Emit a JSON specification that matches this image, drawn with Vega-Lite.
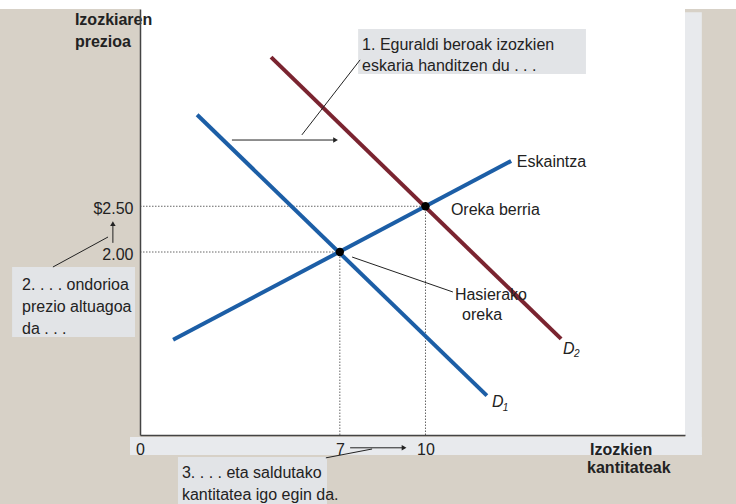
{
  "$schema": "https://vega.github.io/schema/vega-lite/v6.json",
  "autosize": {"type": "none"},
  "width": 545,
  "height": 426,
  "padding": {"left": 140, "top": 9, "right": 51, "bottom": 69},
  "background": "#d7d1c7",
  "config": {"font": "Liberation Sans", "view": {"stroke": null, "fill": "white"}},
  "datasets": {
    "bands": [
      {"x": -4.904, "x2": 20.876, "y": 4.656, "y2": 4.76, "fill": "top"},
      {"x": -0.35, "x2": 19.68, "y": -0.022, "y2": -0.219, "fill": "strip"},
      {"x": 19.09, "x2": 19.68, "y": 4.62, "y2": -0.219, "fill": "strip"}
    ],
    "boxes": [
      {"x": 7.64, "x2": 15.62, "y": 4.437, "y2": 3.945},
      {"x": -4.48, "x2": -0.175, "y": 1.836, "y2": 1.071},
      {"x": 1.33, "x2": 6.55, "y": -0.24, "y2": -0.76}
    ],
    "dotted": [
      {"x": 0, "x2": 10, "y": 2.5, "y2": 2.5},
      {"x": 0, "x2": 7, "y": 2.0, "y2": 2.0},
      {"x": 7, "x2": 7, "y": 0, "y2": 2.0},
      {"x": 10, "x2": 10, "y": 0, "y2": 2.5}
    ],
    "curves": [
      {"curve": "D1", "q": 2.0, "p": 3.5},
      {"curve": "D1", "q": 12.15, "p": 0.43},
      {"curve": "D2", "q": 4.59, "p": 4.13},
      {"curve": "D2", "q": 14.75, "p": 1.05},
      {"curve": "S", "q": 1.16, "p": 1.04},
      {"curve": "S", "q": 13.0, "p": 2.995}
    ],
    "equilibria": [
      {"q": 7, "p": 2.0},
      {"q": 10, "p": 2.5}
    ],
    "pointers": [
      {"x": 5.67, "y": 3.28, "x2": 7.71, "y2": 4.1},
      {"x": 3.22, "y": 3.224, "x2": 6.8, "y2": 3.224},
      {"x": -3.05, "y": 1.836, "x2": -1.12, "y2": 2.164},
      {"x": -0.95, "y": 2.1, "x2": -0.95, "y2": 2.29},
      {"x": 7.43, "y": 1.945, "x2": 10.96, "y2": 1.563},
      {"x": 7.36, "y": -0.14, "x2": 9.2, "y2": -0.14},
      {"x": 6.51, "y": -0.25, "x2": 8.13, "y2": -0.153}
    ],
    "heads": [
      {"x": 6.85, "y": 3.224, "shape": "triangle-right"},
      {"x": 9.25, "y": -0.14, "shape": "triangle-right"},
      {"x": -0.95, "y": 2.31, "shape": "triangle-up"}
    ],
    "notes": [
      {"x": 7.78, "y": 4.262, "label": "1. Eguraldi beroak izozkien"},
      {"x": 7.78, "y": 4.033, "label": "eskaria handitzen du . . ."},
      {"x": -4.13, "y": 1.639, "label": "2. . . . ondorioa"},
      {"x": -4.13, "y": 1.399, "label": "prezio altuagoa"},
      {"x": -4.13, "y": 1.158, "label": "da . . ."},
      {"x": 1.47, "y": -0.415, "label": "3. . . . eta saldutako"},
      {"x": 1.47, "y": -0.656, "label": "kantitatea igo egin da."},
      {"x": 10.89, "y": 2.46, "label": "Oreka berria"},
      {"x": 11.03, "y": 1.53, "label": "Hasierako"},
      {"x": 11.28, "y": 1.31, "label": "oreka"},
      {"x": 13.2, "y": 2.98, "label": "Eskaintza"}
    ],
    "titles": [
      {"x": -2.28, "y": 4.54, "label": "Izozkiaren"},
      {"x": -2.28, "y": 4.29, "label": "prezioa"},
      {"x": 15.76, "y": -0.164, "label": "Izozkien"},
      {"x": 15.66, "y": -0.36, "label": "kantitateak"}
    ],
    "dlabels": [
      {"x": 14.82, "y": 0.94, "label": "D"},
      {"x": 12.33, "y": 0.36, "label": "D"}
    ],
    "dsubs": [
      {"x": 15.2, "y": 0.88, "label": "2"},
      {"x": 12.71, "y": 0.30, "label": "1"}
    ]
  },
  "layer": [
    {
      "data": {"name": "bands"},
      "mark": {"type": "rect"},
      "encoding": {
        "x": {"field": "x", "type": "quantitative", "scale": {"domain": [0, 19.09], "nice": false, "zero": false}, "axis": {"values": [0, 7, 10], "format": "d", "title": null, "ticks": false, "grid": false, "domainColor": "#444", "domainWidth": 1.5, "labelFontSize": 16, "labelColor": "#222", "labelPadding": 6, "labelFlush": false, "zindex": 1}},
        "x2": {"field": "x2"},
        "y": {"field": "y", "type": "quantitative", "scale": {"domain": [0, 4.656], "nice": false, "zero": false}, "axis": {"values": [2, 2.5], "labelExpr": "datum.value == 2.5 ? '$2.50' : '2.00'", "title": null, "ticks": false, "grid": false, "domainColor": "#444", "domainWidth": 1.5, "labelFontSize": 16, "labelColor": "#222", "labelPadding": 7, "labelOffset": 2, "zindex": 1}},
        "y2": {"field": "y2"},
        "fill": {"field": "fill", "type": "nominal", "scale": {"domain": ["top", "strip"], "range": ["#ffffff", "#e8eaed"]}, "legend": null}
      }
    },
    {
      "data": {"name": "boxes"},
      "mark": {"type": "rect", "fill": "#e2e4e7"},
      "encoding": {
        "x": {"field": "x", "type": "quantitative"},
        "x2": {"field": "x2"},
        "y": {"field": "y", "type": "quantitative"},
        "y2": {"field": "y2"}
      }
    },
    {
      "data": {"name": "dotted"},
      "mark": {"type": "rule", "color": "#666", "strokeWidth": 1, "strokeDash": [1.5, 1.5]},
      "encoding": {
        "x": {"field": "x", "type": "quantitative"},
        "x2": {"field": "x2"},
        "y": {"field": "y", "type": "quantitative"},
        "y2": {"field": "y2"}
      }
    },
    {
      "data": {"name": "curves"},
      "mark": {"type": "line", "strokeWidth": 4},
      "encoding": {
        "x": {"field": "q", "type": "quantitative"},
        "y": {"field": "p", "type": "quantitative"},
        "detail": {"field": "curve"},
        "color": {"field": "curve", "type": "nominal", "scale": {"domain": ["D1", "D2", "S"], "range": ["#1c5ea6", "#7a2430", "#1c5ea6"]}, "legend": null}
      }
    },
    {
      "data": {"name": "equilibria"},
      "mark": {"type": "point", "filled": true, "color": "black", "size": 70, "opacity": 1},
      "encoding": {
        "x": {"field": "q", "type": "quantitative"},
        "y": {"field": "p", "type": "quantitative"}
      }
    },
    {
      "data": {"name": "pointers"},
      "mark": {"type": "rule", "color": "#222", "strokeWidth": 1},
      "encoding": {
        "x": {"field": "x", "type": "quantitative"},
        "x2": {"field": "x2"},
        "y": {"field": "y", "type": "quantitative"},
        "y2": {"field": "y2"}
      }
    },
    {
      "data": {"name": "heads"},
      "mark": {"type": "point", "filled": true, "color": "#222", "size": 30, "opacity": 1},
      "encoding": {
        "x": {"field": "x", "type": "quantitative"},
        "y": {"field": "y", "type": "quantitative"},
        "shape": {"field": "shape", "type": "nominal", "scale": null, "legend": null}
      }
    },
    {
      "data": {"name": "notes"},
      "mark": {"type": "text", "align": "left", "baseline": "middle", "fontSize": 16, "color": "#222"},
      "encoding": {
        "x": {"field": "x", "type": "quantitative"},
        "y": {"field": "y", "type": "quantitative"},
        "text": {"field": "label"}
      }
    },
    {
      "data": {"name": "titles"},
      "mark": {"type": "text", "align": "left", "baseline": "middle", "fontSize": 16, "fontWeight": "bold", "color": "#222"},
      "encoding": {
        "x": {"field": "x", "type": "quantitative"},
        "y": {"field": "y", "type": "quantitative"},
        "text": {"field": "label"}
      }
    },
    {
      "data": {"name": "dlabels"},
      "mark": {"type": "text", "align": "left", "baseline": "middle", "fontSize": 16, "fontStyle": "italic", "color": "#222"},
      "encoding": {
        "x": {"field": "x", "type": "quantitative"},
        "y": {"field": "y", "type": "quantitative"},
        "text": {"field": "label"}
      }
    },
    {
      "data": {"name": "dsubs"},
      "mark": {"type": "text", "align": "left", "baseline": "middle", "fontSize": 10, "fontStyle": "italic", "color": "#222"},
      "encoding": {
        "x": {"field": "x", "type": "quantitative"},
        "y": {"field": "y", "type": "quantitative"},
        "text": {"field": "label"}
      }
    }
  ]
}
